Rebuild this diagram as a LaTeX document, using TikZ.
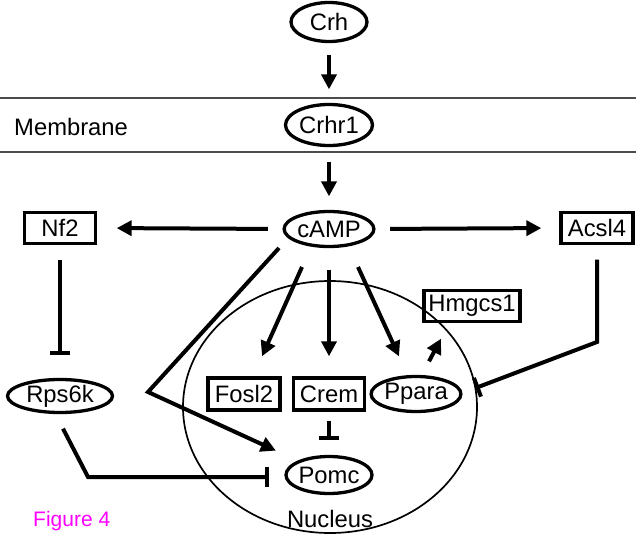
\documentclass[tikz,border=0pt]{standalone}
\usepackage{fontspec}
\setmainfont{Liberation Sans}
\usetikzlibrary{shapes.geometric,arrows.meta,calc}
\definecolor{figmag}{RGB}{255,0,255}
\begin{document}
\begin{tikzpicture}[x=1pt,y=-1pt,
  font=\fontsize{23.8}{28}\selectfont,
  ell/.style={ellipse,draw,line width=3.3pt,inner sep=0pt},
  box/.style={rectangle,draw,line width=3.4pt,inner sep=0pt},
  act/.style={line width=4pt,-{Triangle[length=15pt,width=15pt]}},
  inh/.style={line width=4pt,-{Bar[width=20pt]}},
  memline/.style={line width=2pt,draw=black!70},
  nucleusline/.style={line width=1.7pt},
  figlabel/.style={font=\fontsize{21}{25}\selectfont,text=figmag},
]
\useasboundingbox (0,0) rectangle (636,534);

% membrane
\draw[memline] (0,98) -- (636,98);
\draw[memline] (0,152) -- (636,152);
\node[anchor=base west,inner sep=0pt] (memlabel) at (14,136) {Membrane};

% nucleus
\draw[nucleusline] (330,407) ellipse [x radius=147, y radius=126];
\node[anchor=base,inner sep=0pt] (nuclabel) at (330,527) {Nucleus};

% nodes
\node[ell,minimum width=76pt,minimum height=39pt] (crh) at (329,22) {Crh};
\node[ell,minimum width=87pt,minimum height=41pt] (crhr1) at (329,125) {Crhr1};
\node[ell,minimum width=83pt,minimum height=35pt] (camp) at (329,229) {cAMP};
\node[box,minimum width=71pt,minimum height=31pt] (nf2) at (60,228) {Nf2};
\node[box,minimum width=72pt,minimum height=31pt] (acsl4) at (597,228) {Acsl4};
\node[ell,minimum width=105pt,minimum height=33pt] (rps6k) at (60,396) {Rps6k};
\node[box,minimum width=72pt,minimum height=32pt] (fosl2) at (244,394) {Fosl2};
\node[box,minimum width=71pt,minimum height=32pt] (crem) at (329,394) {Crem};
\node[ell,minimum width=82pt,minimum height=35pt] (ppara) at (416,394) {Ppara};
\node[box,minimum width=96pt,minimum height=31pt] (hmgcs1) at (472,306) {Hmgcs1};
\node[ell,minimum width=83pt,minimum height=37pt] (pomc) at (329,475) {Pomc};

\node[figlabel,anchor=base west,inner sep=0pt] (fig) at (33,526) {Figure 4};

% connectors
\draw[act,shorten <=11.5pt,shorten >=13.5pt] (crh) -- (crhr1);
\draw[act,shorten <=14.5pt,shorten >=13.5pt] (crhr1) -- (camp);
\draw[act,shorten <=14.5pt,shorten >=19.5pt] (camp.west) -- (nf2.east);
\draw[act,shorten <=14.5pt,shorten >=18pt] (camp.east) -- (acsl4.west);
\draw[inh,shorten <=14.5pt,shorten >=22.5pt] (nf2) -- (rps6k);

\coordinate (k1) at (88,477);
\draw[inh,shorten >=15.5pt] ($(rps6k.south)+(3,14.5)$) -- (k1) -- (k1 -| pomc.west);

\coordinate (k2) at (148,392);
\draw[act,shorten >=24pt] ($(camp.center)+(-50,19)$) -- (k2) -- (pomc);

\draw[act] ($(camp.center)+(-27,38)$) -- ($(fosl2.north)+(18,-20)$);
\draw[act,shorten <=21.5pt,shorten >=20pt] (camp) -- (crem);
\draw[act] ($(camp.center)+(29,38)$) -- ($(ppara.north)+(-17,-18.5)$);
\draw[act] ($(ppara.north)+(13,-13.5)$) -- ($(hmgcs1.south)+(-31,15.5)$);

\coordinate (k3) at (597,342);
\draw[inh] ($(acsl4.south)+(0,14.5)$) -- (k3) -- ($(ppara.east)+(13,-6)$);

\draw[inh,shorten <=9pt,shorten >=14.5pt] (crem) -- (pomc);
\end{tikzpicture}
\end{document}
